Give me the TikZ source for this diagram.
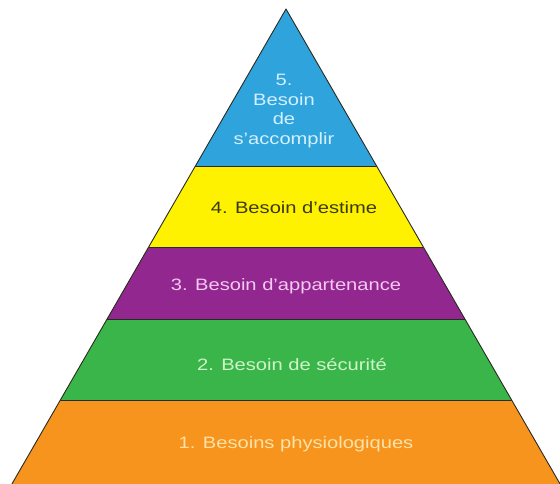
\documentclass[tikz,border=0pt]{standalone}
\usepackage{fontspec}
\newfontfamily\pyr[FakeStretch=1.22]{Liberation Sans}
\usetikzlibrary{calc}
\definecolor{cblue}{HTML}{2EA3DC}
\definecolor{cyellow}{HTML}{FFF200}
\definecolor{cpurple}{HTML}{92278F}
\definecolor{cgreen}{HTML}{3AB54A}
\definecolor{corange}{HTML}{F7941D}
\definecolor{tblue}{HTML}{D4F0FF}
\definecolor{tyellow}{HTML}{3A3A14}
\definecolor{tpurple}{HTML}{F6C8F2}
\definecolor{tgreen}{HTML}{CFF5C8}
\definecolor{torange}{HTML}{FFE2A8}
\definecolor{edge}{HTML}{2A2A22}
\tikzset{
  layer/.style={draw=edge, line width=0.9pt, line join=round},
  lbl/.style={font=\pyr\fontsize{16.5}{19.5}\selectfont, inner sep=0pt, align=center}
}
\begin{document}
\begin{tikzpicture}[x=1pt,y=-1pt]
\useasboundingbox (0,0) rectangle (560,484);
\coordinate (A) at (286,9);
\coordinate (L) at (11.9,484);
\coordinate (R) at (560.1,484);
\coordinate (L1) at ($(A)!0.3305!(L)$);
\coordinate (R1) at ($(A)!0.3305!(R)$);
\coordinate (L2) at ($(A)!0.5011!(L)$);
\coordinate (R2) at ($(A)!0.5011!(R)$);
\coordinate (L3) at ($(A)!0.6526!(L)$);
\coordinate (R3) at ($(A)!0.6526!(R)$);
\coordinate (L4) at ($(A)!0.8232!(L)$);
\coordinate (R4) at ($(A)!0.8232!(R)$);
\fill[corange] (L4) -- (R4) -- (R) -- (L) -- cycle;
\fill[cgreen] (L3) -- (R3) -- (R4) -- (L4) -- cycle;
\fill[cpurple] (L2) -- (R2) -- (R3) -- (L3) -- cycle;
\fill[cyellow] (L1) -- (R1) -- (R2) -- (L2) -- cycle;
\fill[cblue] (A) -- (R1) -- (L1) -- cycle;
\draw[layer] (L1) -- (R1);
\draw[layer] (L2) -- (R2);
\draw[layer] (L3) -- (R3);
\draw[layer] (L4) -- (R4);
\draw[layer] (L) -- (A) -- (R);
\node[lbl, text=tblue] (n5) at (284,111) {5.\\Besoin\\de\\s’accomplir};
\node[lbl, text=tyellow] (n4) at (294,208) {4. Besoin d’estime};
\node[lbl, text=tpurple] (n3) at (286,286) {3. Besoin d’appartenance};
\node[lbl, text=tgreen] (n2) at (292,365) {2. Besoin de sécurité};
\node[lbl, text=torange] (n1) at (296,444) {1. Besoins physiologiques};
\end{tikzpicture}
\end{document}
